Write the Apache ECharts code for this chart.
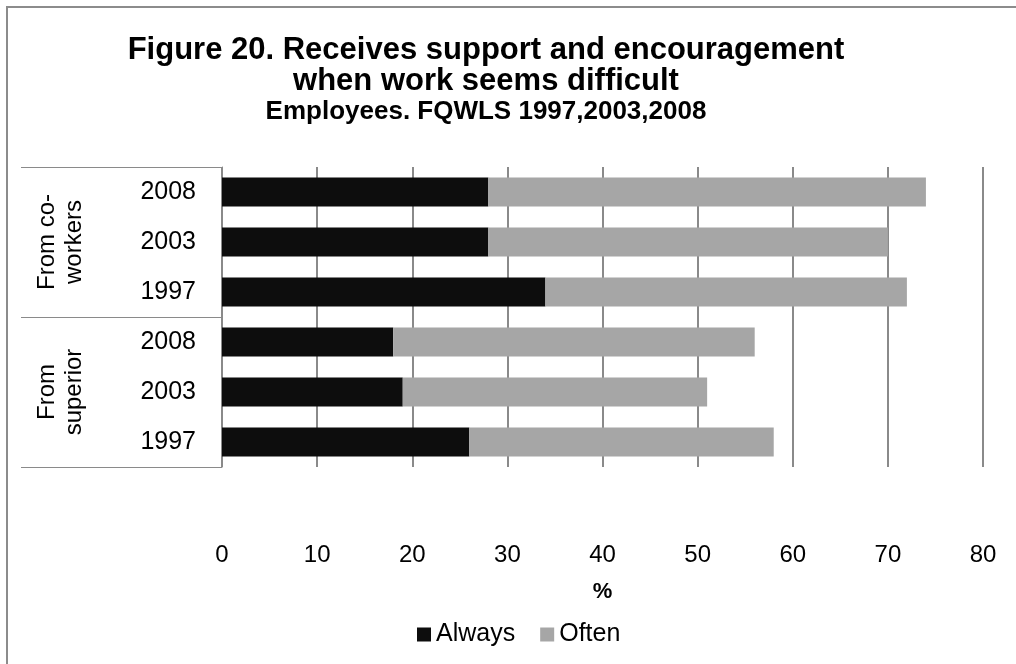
<!DOCTYPE html>
<html>
<head>
<meta charset="utf-8">
<script src="https://cdn.jsdelivr.net/npm/echarts@6/dist/echarts.min.js"></script>
<style>
html,body{margin:0;padding:0;background:#fff;}
#chart{width:1016px;height:664px;}
</style>
</head>
<body>
<div id="chart"></div>
<script>
// Data (bottom to top, as drawn)
const groups = ['From\nsuperior', 'From co-\nworkers'];
const years = ['1997', '2003', '2008'];
const alwaysSuperior = [26, 19, 18];
const alwaysCoworkers = [34, 28, 28];
const oftenSuperior = [32, 32, 38];
const oftenCoworkers = [38, 42, 46];
const xTicks = [0, 10, 20, 30, 40, 50, 60, 70, 80];

const catKeys = [];
groups.forEach((g, gi) => years.forEach(y => catKeys.push(gi + '|' + y)));
const alwaysData = alwaysSuperior.concat(alwaysCoworkers);
const oftenData = oftenSuperior.concat(oftenCoworkers);

const chart = echarts.init(document.getElementById('chart'));
const FONT = 'Liberation Sans, Arial, sans-serif';
chart.setOption({
  animation: false,
  textStyle: { fontFamily: FONT },
  title: [{
    text: 'Figure 20. Receives support and encouragement\nwhen work seems difficult',
    left: 481, top: 30, textAlign: 'center',
    textStyle: { fontSize: 31, fontWeight: 'bold', color: '#000', lineHeight: 31, fontFamily: FONT }
  }, {
    text: 'Employees. FQWLS 1997,2003,2008',
    left: 481, top: 94, textAlign: 'center',
    textStyle: { fontSize: 26, fontWeight: 'bold', color: '#000', fontFamily: FONT }
  }],
  graphic: [{
    type: 'rect', shape: { x: 7, y: 7, width: 1030, height: 680 },
    style: { fill: 'none', stroke: '#8c8c8c', lineWidth: 2 }, silent: true
  }],
  legend: {
    data: ['Always', 'Often'],
    left: 412, top: 617,
    itemWidth: 14, itemHeight: 14, itemGap: 25,
    icon: 'rect',
    textStyle: { fontSize: 25, color: '#000', fontFamily: FONT, padding: [0, 0, 0, 0] }
  },
  grid: { left: 222, right: 33, top: 167, bottom: 197, containLabel: false },
  xAxis: {
    type: 'value', min: 0, max: 80, interval: 10,
    axisLine: { show: false }, axisTick: { show: false },
    splitLine: { show: true, lineStyle: { color: '#8a8a8a', width: 2 } },
    axisLabel: { fontSize: 24, color: '#000', margin: 76,
      formatter: v => xTicks.includes(v) ? String(v) : '' },
    name: '%', nameLocation: 'middle', nameGap: 114,
    nameTextStyle: { fontSize: 22, fontWeight: 'bold', color: '#000' }
  },
  yAxis: [{
    type: 'category', data: catKeys, position: 'left',
    axisLine: { show: true, lineStyle: { color: '#8a8a8a', width: 1 } },
    axisTick: { show: false },
    axisLabel: { fontSize: 25, color: '#000', margin: 26, formatter: v => v.split('|')[1] }
  }, {
    type: 'category', data: groups, position: 'left',
    axisLine: { show: false },
    axisTick: { show: true, length: 201, lineStyle: { color: '#8a8a8a', width: 1 } },
    axisLabel: { fontSize: 24, color: '#000', rotate: 90, margin: 134, lineHeight: 27, align: 'center' }
  }],
  series: [{
    name: 'Always', type: 'bar', stack: 'total', yAxisIndex: 0,
    data: alwaysData, barWidth: 29,
    itemStyle: { color: '#0d0d0d' }
  }, {
    name: 'Often', type: 'bar', stack: 'total', yAxisIndex: 0,
    data: oftenData, barWidth: 29,
    itemStyle: { color: '#a6a6a6' }
  }]
});
</script>
</body>
</html>
